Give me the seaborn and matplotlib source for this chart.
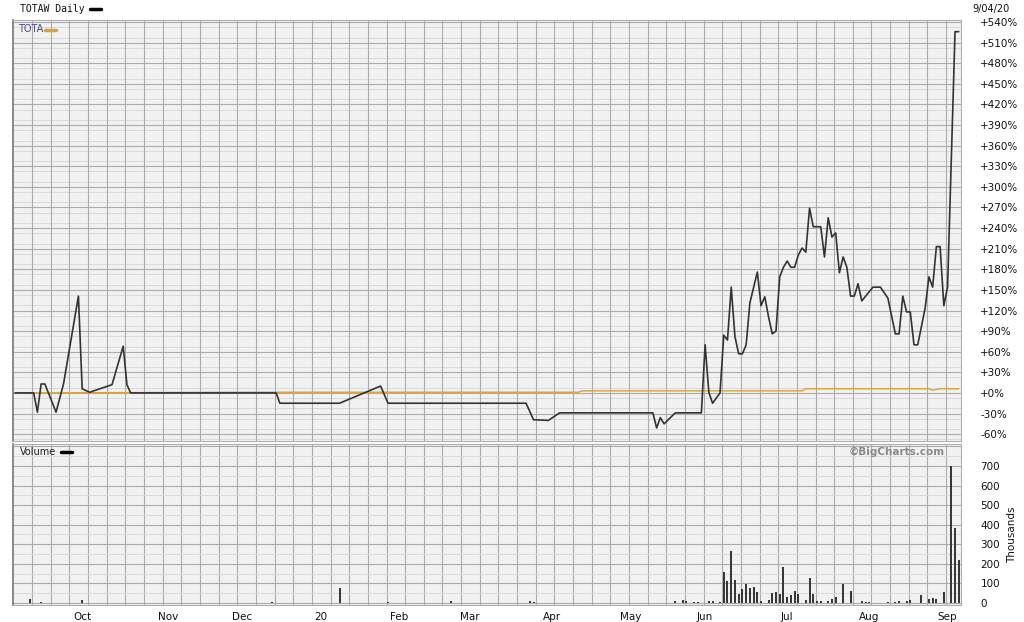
import numpy as np
import pandas as pd
import matplotlib
matplotlib.use("Agg")
import matplotlib.pyplot as plt
from matplotlib.lines import Line2D
import seaborn as sns

# ---------------- data ----------------
holidays = ["2019-11-28", "2019-12-25", "2020-01-01", "2020-01-20",
            "2020-02-17", "2020-04-10", "2020-05-25", "2020-07-03"]

totaw_dates = [
    "2019-09-05", "2019-09-12", "2019-09-13", "2019-09-16", "2019-09-17", "2019-09-20",
    "2019-09-24", "2019-09-30", "2019-10-01", "2019-10-03", "2019-10-11", "2019-10-16",
    "2019-10-17", "2019-10-18", "2019-12-13", "2019-12-16", "2020-01-09", "2020-01-27",
    "2020-01-29", "2020-03-23", "2020-03-25", "2020-03-31", "2020-04-03", "2020-05-11",
    "2020-05-12", "2020-05-13", "2020-05-14", "2020-05-19", "2020-05-29", "2020-06-01",
    "2020-06-02", "2020-06-03", "2020-06-05", "2020-06-08", "2020-06-09", "2020-06-10",
    "2020-06-11", "2020-06-12", "2020-06-15", "2020-06-16", "2020-06-17", "2020-06-19",
    "2020-06-22", "2020-06-23", "2020-06-24", "2020-06-25", "2020-06-26", "2020-06-29",
    "2020-06-30", "2020-07-01", "2020-07-02", "2020-07-06", "2020-07-07", "2020-07-08",
    "2020-07-09", "2020-07-10", "2020-07-13", "2020-07-15", "2020-07-16", "2020-07-17",
    "2020-07-20", "2020-07-21", "2020-07-22", "2020-07-23", "2020-07-24", "2020-07-27",
    "2020-07-28", "2020-07-29", "2020-07-30", "2020-08-04", "2020-08-06", "2020-08-10",
    "2020-08-12", "2020-08-13", "2020-08-14", "2020-08-17", "2020-08-18", "2020-08-19",
    "2020-08-20", "2020-08-24", "2020-08-25", "2020-08-26", "2020-08-27", "2020-08-28",
    "2020-08-31", "2020-09-01", "2020-09-03", "2020-09-04"]
totaw_pct = [
    0, 0, -28, 13, 13, -28,
    13, 141, 6, 1, 12, 68,
    12, 0, 0, -15, -15, 10,
    -15, -15, -39, -40, -29, -29,
    -51, -36, -45, -29, -29, 70,
    1, -15, 0, 84, 77, 154,
    82, 57, 57, 70, 131, 176,
    127, 140, 111, 86, 90, 169,
    183, 192, 183, 183, 201, 211,
    205, 269, 242, 242, 198, 255,
    227, 233, 175, 198, 183, 141,
    141, 159, 134, 154, 154, 138,
    86, 86, 141, 118, 118, 70,
    70, 124, 169, 154, 213, 213,
    127, 154, 526, 526]

tota_dates = ["2019-09-05", "2019-12-02", "2020-04-13", "2020-04-14", "2020-07-08",
              "2020-07-09", "2020-08-25", "2020-08-26", "2020-08-28", "2020-09-04"]
tota_pct = [0, 1, 1, 3, 3, 6, 6, 4, 6, 6]

vol_dates = [
    "2019-09-11", "2019-09-16", "2019-10-01", "2019-12-12", "2020-01-09", "2020-01-29",
    "2020-02-24", "2020-03-24", "2020-03-25", "2020-05-19", "2020-05-21", "2020-05-22",
    "2020-05-27", "2020-05-28", "2020-06-02", "2020-06-03", "2020-06-05", "2020-06-08",
    "2020-06-09", "2020-06-10", "2020-06-11", "2020-06-12", "2020-06-15", "2020-06-16",
    "2020-06-17", "2020-06-18", "2020-06-19", "2020-06-22", "2020-06-24", "2020-06-25",
    "2020-06-26", "2020-06-29", "2020-06-30", "2020-07-01", "2020-07-02", "2020-07-06",
    "2020-07-07", "2020-07-09", "2020-07-10", "2020-07-13", "2020-07-14", "2020-07-15",
    "2020-07-17", "2020-07-20", "2020-07-21", "2020-07-23", "2020-07-27", "2020-07-30",
    "2020-07-31", "2020-08-03", "2020-08-10", "2020-08-12", "2020-08-13", "2020-08-17",
    "2020-08-18", "2020-08-21", "2020-08-25", "2020-08-26", "2020-08-27", "2020-08-31",
    "2020-09-02", "2020-09-03", "2020-09-04"]
vol_k = [
    20, 3, 15, 3, 77, 3,
    8, 8, 4, 8, 15, 10,
    6, 5, 8, 10, 5, 160,
    110, 265, 120, 45, 70, 95,
    75, 80, 55, 8, 15, 50,
    55, 45, 185, 30, 40, 60,
    45, 15, 130, 45, 10, 8,
    12, 20, 30, 95, 60, 8,
    5, 4, 5, 5, 8, 10,
    15, 40, 20, 25, 20, 55,
    700, 385, 220]

month_labels = ["Oct", "Nov", "Dec", "20", "Feb", "Mar", "Apr", "May", "Jun", "Jul", "Aug", "Sep"]
price_ticks = list(range(-60, 541, 30))
vol_ticks = list(range(0, 701, 100))

# ---------------- trading-day axis ----------------
sessions = pd.bdate_range("2019-09-05", "2020-09-04", freq="C", holidays=holidays)
def pos(dates):
    return sessions.get_indexer(pd.to_datetime(dates))

df_w = pd.DataFrame({"x": pos(totaw_dates), "y": totaw_pct})
df_t = pd.DataFrame({"x": pos(tota_dates), "y": tota_pct})
df_v = pd.DataFrame({"x": pos(vol_dates), "v": vol_k})

s = pd.Series(np.arange(len(sessions)), index=sessions)
month_pos = s.groupby([sessions.year, sessions.month]).first().values[1:]

# ---------------- style ----------------
sns.set_style("white")
plt.rcParams["font.family"] = ["DejaVu Sans"]

fig = plt.figure(figsize=(10.24, 6.22), dpi=100)
W, H = 1024, 622
axp = fig.add_axes([13 / W, 1 - 441 / H, 948 / W, 421 / H])
axv = fig.add_axes([13 / W, 1 - 605 / H, 948 / W, 161 / H])

xlim = (-0.54, 253.6)
week_lines = np.arange(4.6, 254, 5)
face = "#f1f1f1"
major_c = "#ababab"
minor_c = "#dadada"

for ax in (axp, axv):
    ax.set_facecolor(face)
    ax.set_xlim(*xlim)
    for sp in ax.spines.values():
        sp.set_color("#b0b0b0")
        sp.set_linewidth(0.8)
    ax.spines["left"].set_color("#777777")
    ax.spines["left"].set_linewidth(1.2)

# grids
for v in np.arange(-67.5, 545, 15):
    axp.axhline(v, color=minor_c, lw=0.7, zorder=0)
for v in price_ticks:
    axp.axhline(v, color=major_c, lw=0.8, zorder=0)
for v in week_lines:
    axp.axvline(v, color=major_c, lw=0.8, zorder=0)
    axv.axvline(v, color=major_c, lw=0.8, zorder=0)
for v in np.arange(50, 801, 100):
    axv.axhline(v, color=minor_c, lw=0.7, zorder=0)
for v in vol_ticks + [800]:
    axv.axhline(v, color=major_c, lw=0.8, zorder=0)

sns.lineplot(data=df_t, x="x", y="y", ax=axp, color="#d9a13a", lw=1.0, zorder=3)
sns.lineplot(data=df_w, x="x", y="y", ax=axp, color="#333333", lw=1.2, zorder=4)

axp.set_ylim(-70, 543)
axp.set_xlabel("")
axp.set_ylabel("")
axp.set_xticks([])
axp.yaxis.tick_right()
axp.set_yticks(price_ticks)
axp.set_yticklabels([("+%d%%" % v) if v >= 0 else ("-%d%%" % -v) for v in price_ticks],
                    fontsize=7.5, ha="left")
axp.tick_params(axis="y", length=0, pad=14, colors="#111111")

axv.vlines(df_v["x"], 0, df_v["v"], color="#333333", lw=1.4, zorder=3)
axv.set_ylim(-10, 812)
axv.yaxis.tick_right()
axv.set_yticks(vol_ticks)
axv.set_yticklabels([str(v) for v in vol_ticks], fontsize=7.5, ha="left")
axv.tick_params(axis="y", length=0, pad=14, colors="#111111")
axv.set_xticks(month_pos)
axv.set_xticklabels(month_labels, fontsize=7.5)
axv.tick_params(axis="x", length=0, pad=5, colors="#111111")
axv.set_xlabel("")
axv.set_ylabel("")

# texts
fig.text(20 / W, 1 - 9 / H, "TOTAW Daily", fontsize=7, family="DejaVu Sans Mono",
         va="center", ha="left", color="#111111")
fig.add_artist(Line2D([90 / W, 101 / W], [1 - 9 / H, 1 - 9 / H], color="black", lw=2.5))
fig.text(18 / W, 1 - 29 / H, "TOTA", fontsize=7, va="center", ha="left", color="#4b4b7d")
fig.add_artist(Line2D([45 / W, 56 / W], [1 - 29.5 / H, 1 - 29.5 / H], color="#d9a13a", lw=2.5))
fig.text(20 / W, 1 - 452 / H, "Volume", fontsize=7, va="center", ha="left", color="#222222")
fig.add_artist(Line2D([61 / W, 72 / W], [1 - 452 / H, 1 - 452 / H], color="black", lw=2.5))
fig.text(945 / W, 1 - 452 / H, "\u00a9BigCharts.com", fontsize=7.5, weight="bold",
         va="center", ha="right", color="#8a8a8a")
fig.text(972 / W, 1 - 9 / H, "9/04/20", fontsize=7, va="center", ha="left", color="#111111")
fig.text(1012 / W, 1 - 535 / H, "Thousands", fontsize=7.5, rotation=90,
         va="center", ha="center", color="#111111")

fig.savefig("out.png", dpi=100, facecolor="white")
